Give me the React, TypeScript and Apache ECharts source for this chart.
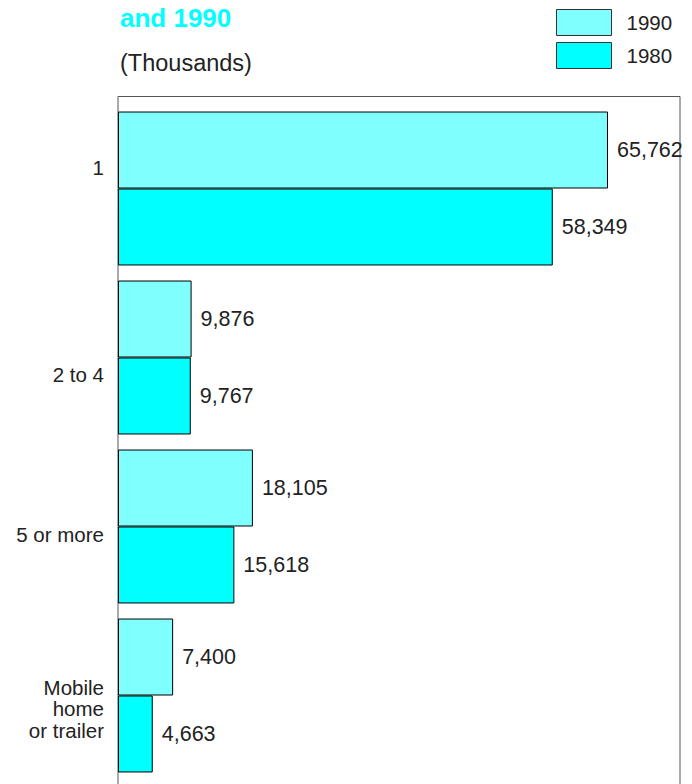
import React, { useEffect, useRef } from "react";
import * as echarts from "echarts";

const categories = ["1", "2 to 4", "5 or more", "Mobile\nhome\nor trailer"];
const values1990 = [65762, 9876, 18105, 7400];
const values1980 = [58349, 9767, 15618, 4663];
const seriesNames = ["1990", "1980"];
const titleText = "and 1990";
const subtitleText = "(Thousands)";

const FONT = "'Liberation Sans', Arial, Helvetica, sans-serif";
const TEXT = "#222";

export default function App() {
  const ref = useRef<HTMLDivElement>(null);
  useEffect(() => {
    if (!ref.current) return;
    const chart = echarts.init(ref.current, undefined, { renderer: "svg" });
    const richKeys = ["c0", "c1", "c2", "c3"];
    const paddings = [
      [0, 0, 42, 0],
      [34, 0, 0, 0],
      [16, 0, 0, 0],
      [26, 0, 0, 0],
    ];
    const rich: any = {};
    richKeys.forEach((k, i) => {
      rich[k] = {
        fontFamily: FONT,
        fontSize: 20.5,
        color: TEXT,
        lineHeight: 21.5,
        align: "right",
        padding: paddings[i],
      };
    });
    const labelStyle = {
      show: true,
      position: "right" as const,
      distance: 9,
      fontFamily: FONT,
      fontSize: 21.5,
      color: TEXT,
      formatter: (p: any) => p.value.toLocaleString("en-US"),
    };
    chart.setOption({
      animation: false,
      textStyle: { fontFamily: FONT },
      title: [
        {
          text: titleText,
          left: 115,
          top: 0,
          textStyle: { fontFamily: FONT, fontSize: 26, fontWeight: "bold", color: "#00FFFF" },
        },
        {
          text: subtitleText,
          left: 115,
          top: 46,
          textStyle: { fontFamily: FONT, fontSize: 23.5, fontWeight: "normal", color: TEXT },
        },
      ],
      legend: {
        orient: "vertical",
        left: 551,
        top: 4,
        itemWidth: 55,
        itemHeight: 26,
        itemGap: 6,
        icon: "rect",
        data: seriesNames,
        textStyle: { fontFamily: FONT, fontSize: 20.5, color: TEXT, padding: [0, 0, 0, 10] },
        itemStyle: { borderColor: "#333", borderWidth: 1 },
      },
      grid: { left: 118, top: 104, width: 562, height: 676, containLabel: false },
      xAxis: {
        type: "value",
        min: 0,
        max: 75425,
        show: false,
      },
      yAxis: {
        type: "category",
        inverse: true,
        data: categories,
        axisLine: { show: false },
        axisTick: { show: false },
        axisLabel: {
          margin: 14,
          formatter: (v: string, i: number) =>
            v
              .split("\n")
              .map((line) => `{${richKeys[i]}|${line}}`)
              .join("\n"),
          rich,
        },
      },
      graphic: [
        {
          type: "rect",
          z: 0,
          shape: { x: 118, y: 96.5, width: 562, height: 720 },
          style: { fill: "none", stroke: "#555", lineWidth: 1 },
        },
      ],
      series: [
        {
          name: seriesNames[0],
          type: "bar",
          data: values1990,
          barGap: "0%",
          barCategoryGap: "8.9%",
          itemStyle: { color: "#80FFFF", borderColor: "#000", borderWidth: 1 },
          label: labelStyle,
          z: 3,
        },
        {
          name: seriesNames[1],
          type: "bar",
          data: values1980,
          barGap: "0%",
          barCategoryGap: "8.9%",
          itemStyle: { color: "#00FFFF", borderColor: "#000", borderWidth: 1 },
          label: labelStyle,
          z: 3,
        },
      ],
    });
    return () => chart.dispose();
  }, []);
  return (
    <div
      ref={ref}
      style={{ position: "fixed", top: 0, left: 0, width: 692, height: 784, background: "#fff" }}
    />
  );
}
